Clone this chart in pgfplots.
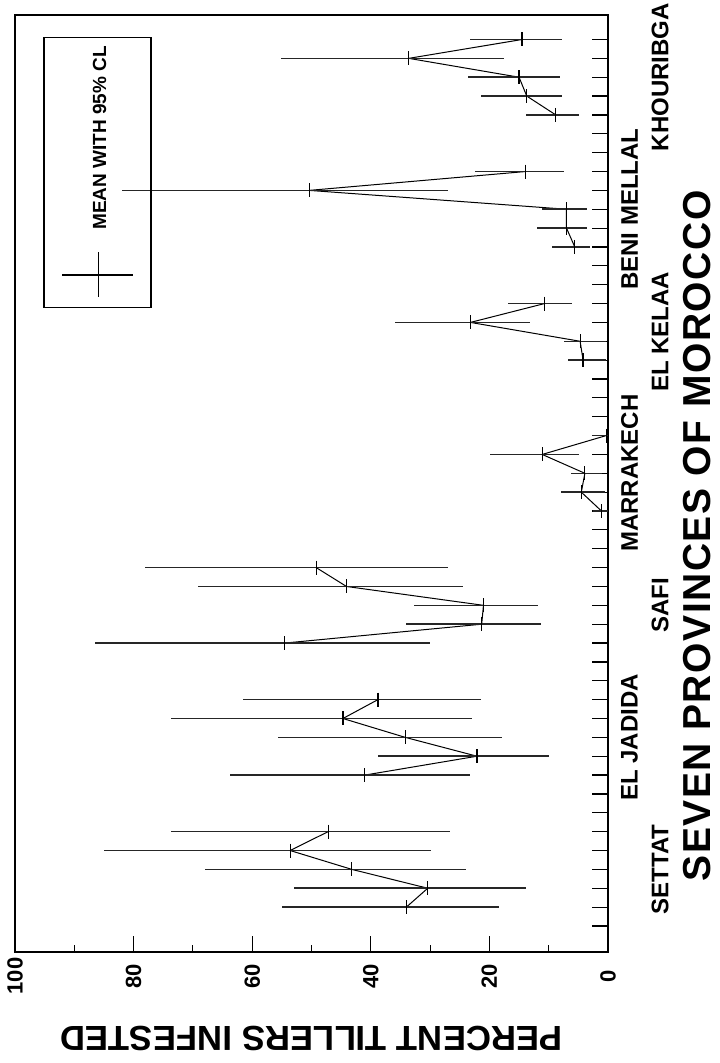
\documentclass[border=0pt]{standalone}
\usepackage{fontspec}
\setmainfont{Liberation Sans}
\usepackage{pgfplots}
\pgfplotsset{compat=1.18}
\usepackage{pgfplotstable}

% k = position along the province axis, m = mean, lo/hi = 95% CL
\pgfplotstableread{
k m lo hi
2 34.0 18.3 54.9
3 30.4 13.8 53.0
4 43.2 24.0 68.0
5 53.6 29.8 85.0
6 47.2 26.6 73.7
}\settat
\pgfplotstableread{
k m lo hi
9 41.0 23.2 63.8
10 22.1 9.9 38.8
11 34.2 17.9 55.6
12 44.7 22.9 73.7
13 38.8 21.4 61.6
}\eljadida
\pgfplotstableread{
k m lo hi
16 54.5 30.1 86.5
17 21.3 11.3 34.0
18 21.0 11.8 32.7
19 44.1 24.5 69.2
20 49.2 27.0 78.1
}\safi
\pgfplotstableread{
k m lo hi
23 1.1 0.0 2.5
24 4.5 0.5 8.0
25 3.9 1.0 6.3
26 11.1 4.9 19.9
27 0.3 0.0 2.7
}\marrakech
\pgfplotstableread{
k m lo hi
31 4.2 0.3 6.8
32 4.7 0.3 7.5
33 23.2 13.2 36.0
34 10.7 6.0 16.8
}\elkelaa
\pgfplotstableread{
k m lo hi
37 5.6 3.0 9.4
38 7.0 3.5 11.9
39 7.0 3.5 11.1
40 50.4 26.9 81.9
41 13.9 7.5 22.4
}\benimellal
\pgfplotstableread{
k m lo hi
44 8.8 4.9 13.9
45 13.7 7.8 21.4
46 15.0 8.1 23.6
47 33.6 17.6 55.2
48 14.5 7.8 23.2
}\khouribga

\pgfplotsset{
  cl/.style={black, line width=0.5pt, mark=|, mark size=3.5pt,
    mark options={line width=0.6pt},
    error bars/.cd, x dir=both, x explicit, error mark=none,
    error bar style={line width=0.75pt, black!85}},
}

\begin{document}
\begin{tikzpicture}[font=\bfseries]
\begin{axis}[
  at={(0pt,0pt)}, anchor=south west,
  scale only axis, width=296.5pt, height=468.5pt,
  x dir=reverse, xmin=0, xmax=100,
  ymin=-0.38, ymax=49.3,
  xtick={0,20,...,100}, minor xtick={10,30,...,90},
  xtick pos=left, ytick pos=right,
  ytick={1,...,48}, yticklabels={},
  tick align=inside,
  major tick length=8pt, minor tick length=3.5pt,
  /pgf/number format/assume math mode=true,
  xticklabel style={rotate=90, anchor=center, font=\fontsize{11}{13}\selectfont\bfseries},
  xticklabel shift=12pt,
  axis line style={line width=0.8pt},
  every tick/.style={line width=0.6pt, black},
  clip=false,
]
\addplot[cl] table[x=m, y=k, x error plus expr=\thisrow{hi}-\thisrow{m}, x error minus expr=\thisrow{m}-\thisrow{lo}] {\settat};
\addplot[cl] table[x=m, y=k, x error plus expr=\thisrow{hi}-\thisrow{m}, x error minus expr=\thisrow{m}-\thisrow{lo}] {\eljadida};
\addplot[cl] table[x=m, y=k, x error plus expr=\thisrow{hi}-\thisrow{m}, x error minus expr=\thisrow{m}-\thisrow{lo}] {\safi};
\addplot[cl] table[x=m, y=k, x error plus expr=\thisrow{hi}-\thisrow{m}, x error minus expr=\thisrow{m}-\thisrow{lo}] {\marrakech};
\addplot[cl] table[x=m, y=k, x error plus expr=\thisrow{hi}-\thisrow{m}, x error minus expr=\thisrow{m}-\thisrow{lo}] {\elkelaa};
\addplot[cl] table[x=m, y=k, x error plus expr=\thisrow{hi}-\thisrow{m}, x error minus expr=\thisrow{m}-\thisrow{lo}] {\benimellal};
\addplot[cl] table[x=m, y=k, x error plus expr=\thisrow{hi}-\thisrow{m}, x error minus expr=\thisrow{m}-\thisrow{lo}] {\khouribga};

% province labels (staggered in two rows)
\begin{scope}[every node/.style={rotate=90, font=\fontsize{12}{14}\selectfont\bfseries, inner sep=0pt}]
\node at (axis cs:-3.63,4)  {};
\node at (axis cs:-8.77,4)  {SETTAT};
\node at (axis cs:-3.63,11) {EL JADIDA};
\node at (axis cs:-8.77,18) {SAFI};
\node at (axis cs:-3.63,25) {MARRAKECH};
\node at (axis cs:-8.77,32.5) {EL KELAA};
\node at (axis cs:-3.63,39) {BENI MELLAL};
\node at (axis cs:-8.77,46) {KHOURIBGA};
\end{scope}
\end{axis}

% axis titles
\node[rotate=90, inner sep=0pt, font=\fontsize{19.5}{22}\selectfont\bfseries\addfontfeature{LetterSpace=4}] at (341pt,208pt) {SEVEN PROVINCES OF MOROCCO};
\node[rotate=180, inner sep=0pt, font=\fontsize{17.4}{20}\selectfont\bfseries] at (148.25pt,-43pt) {PERCENT TILLERS INFESTED};

% legend
\draw[line width=0.6pt] (14.5pt,322.15pt) rectangle (68pt,457.15pt);
\draw[line width=0.75pt] (23.5pt,338.5pt) -- (59pt,338.5pt);
\draw[line width=0.5pt] (41.5pt,327.5pt) -- (41.5pt,350pt);
\node[rotate=90, inner sep=0pt, font=\fontsize{9.5}{11}\selectfont\bfseries] at (42.25pt,407pt) {MEAN WITH 95\% CL};

\pgfresetboundingbox
\path (-7.5pt,-55.5pt) rectangle (352pt,476pt);
\end{tikzpicture}
\end{document}
